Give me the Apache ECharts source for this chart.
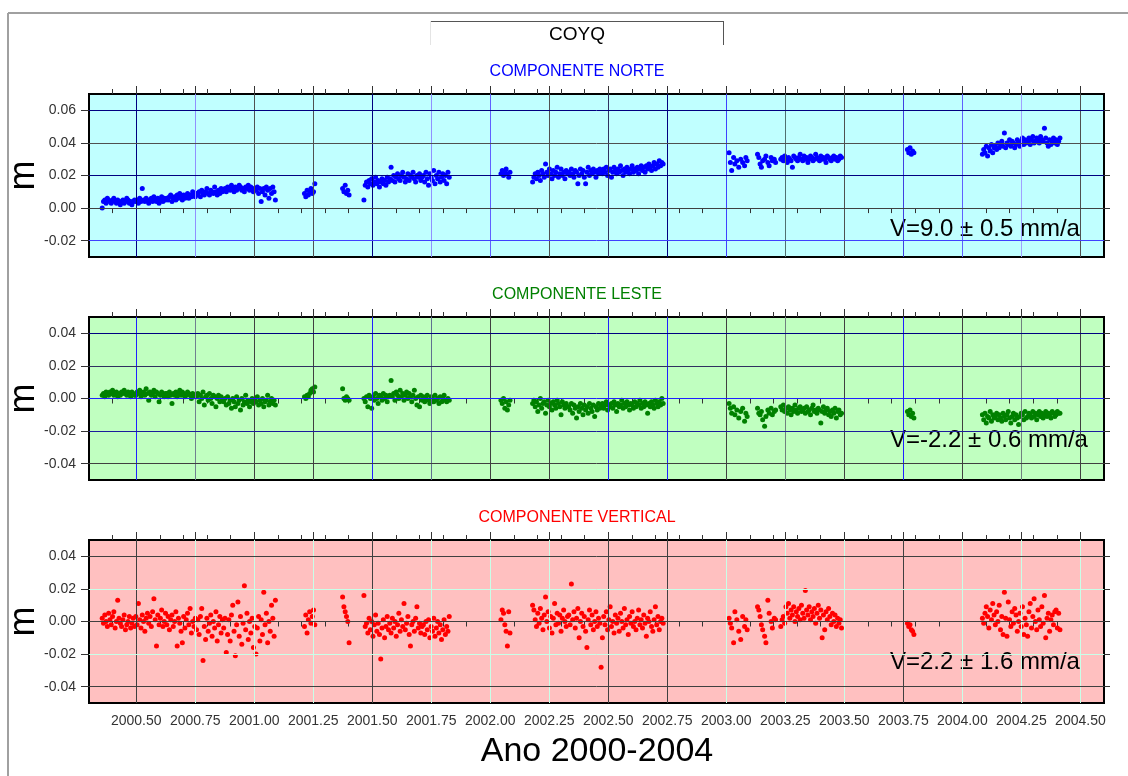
<!DOCTYPE html>
<html><head><meta charset="utf-8">
<script src="https://cdn.jsdelivr.net/npm/echarts@6/dist/echarts.min.js"></script>
<style>html,body{margin:0;padding:0;background:#fff}#c{width:1128px;height:776px}</style>
</head><body><div id="c"></div>
<script>
// Épocas: dias desde 2000.0
const dias = [
130,132,134,136,138,140,142,144,146,148,150,152,154,156,158,160,162,164,166,168,170,172,174,176,178,180,182,184,186,188,190,192,194,196,198,200,202,204,206,208,210,212,214,216,218,220,222,224,226,228,230,232,234,236,238,240,242,244,246,248,250,252,254,256,258,260,262,264,266,268,270,272,274,276,278,280,282,284,286,288,290,292,294,296,298,300,302,304,306,308,310,312,314,316,318,320,322,324,326,328,330,332,334,336,338,340,342,344,346,348,350,352,354,356,358,360,362,364,366,368,370,372,374,376,378,380,382,384,386,388,390,392,394,396,398,
443,445,447,449,451,453,455,457,459,
502,504,506,508,510,512,
535,537,539,541,543,545,547,549,551,553,555,557,559,561,563,565,567,569,571,573,575,577,579,581,583,585,587,589,591,593,595,597,599,601,603,605,607,609,611,613,615,617,619,621,623,625,627,629,631,633,635,637,639,641,643,645,647,649,651,653,655,657,659,661,663,665,667,
747,749,751,753,755,757,759,761,
796,798,800,802,804,806,808,810,812,814,816,818,820,822,824,826,828,830,832,834,836,838,840,842,844,846,848,850,852,854,856,858,860,862,864,866,868,870,872,874,876,878,880,882,884,886,888,890,892,894,896,898,900,902,904,906,908,910,912,914,916,918,920,922,924,926,928,930,932,934,936,938,940,942,944,946,948,950,952,954,956,958,960,962,964,966,968,970,972,974,976,978,980,982,984,986,988,990,992,994,996,998,
1100,1102,1104,1107,1109,1112,1115,1118,1121,1124,1126,1128,
1144,1146,1148,1150,1152,1155,1157,1160,1162,1165,1167,1170,1172,
1180,1182,1184,1186,1188,1190,1192,1194,1196,1198,1200,1202,1204,1206,1208,1210,1212,1214,1216,1218,1220,1222,1224,1226,1228,1230,1232,1234,1236,1238,1240,1242,1244,1246,1248,1250,1252,1254,1256,1258,1260,1262,1264,1266,1268,1270,1272,1274,
1376,1378,1380,1382,1384,1386,
1492,1494,1496,1498,1500,1502,1504,1506,1508,1510,1512,1514,1516,1518,1520,1522,1524,1526,1528,1530,1532,1534,1536,1538,1540,1542,1544,1546,1548,1550,1552,1554,1556,1558,1560,1562,1564,1566,1568,1570,1572,1574,1576,1578,1580,1582,1584,1586,1588,1590,1592,1594,1596,1598,1600,1602,1604,1606,1608,1610,1612
];
// Componente Norte (mm)
const norte = [
0,4,5,3,6,5,4,3,5,6,4,3,5,4,2,4,5,3,4,6,5,3,4,2,4,5,
4,5,3,6,4,12,5,4,6,5,3,5,6,4,7,5,4,6,3,5,7,4,6,5,
6,5,7,8,4,6,7,5,8,6,9,7,5,8,6,7,9,6,8,7,10,8,7,
9,8,10,7,11,9,8,10,12,9,8,11,10,9,13,10,8,11,9,12,10,
11,12,10,13,12,11,14,12,10,13,11,12,14,13,11,12,10,13,12,14,11,13,12,10,12,
11,13,9,12,4,10,12,8,13,11,6,12,9,13,10,5,
9,7,11,8,10,12,9,10,15,
12,10,14,9,11,8,
5,14,16,13,17,15,18,14,16,19,15,17,13,16,18,15,17,14,19,16,
18,25,17,20,16,19,21,18,17,20,22,19,16,18,21,17,20,19,22,18,16,20,19,21,17,19,
20,16,22,18,14,21,19,17,23,15,20,18,22,16,19,21,17,20,15,22,19,
21,23,20,22,24,21,19,22,
16,19,21,18,22,20,17,23,21,19,27,22,20,24,21,18,23,20,22,25,19,21,24,20,22,18,23,21,
22,20,24,21,19,23,22,15,20,24,21,23,19,15,22,25,20,23,21,24,22,19,23,21,24,
23,21,24,22,25,20,23,24,19,22,25,23,21,24,22,26,23,20,24,22,25,23,21,24,26,22,24,23,25,21,24,26,23,25,22,26,24,27,25,23,26,28,24,27,25,29,26,28,27,
34,28,23,31,27,29,25,30,28,26,31,29,
33,31,27,25,29,30,32,28,26,31,29,30,28,
30,31,29,32,30,28,31,30,29,25,32,31,30,29,31,33,30,29,32,30,31,28,30,32,31,29,30,33,31,30,29,32,30,31,30,28,32,31,30,29,31,32,30,31,29,30,32,31,
36,34,37,33,35,34,
33,36,34,38,32,37,35,39,34,37,38,36,40,37,39,41,38,46,37,40,39,42,38,41,40,37,39,42,40,38,41,43,39,42,40,41,43,39,42,44,40,41,43,42,40,44,42,41,49,43,40,38,42,39,41,43,40,42,39,41,43
];
// Componente Leste (mm)
const leste = [
2,3,1,4,3,2,4,3,5,2,3,4,1,3,2,4,3,5,3,2,4,3,1,4,3,2,
2,4,3,5,1,3,4,2,6,3,-1,4,2,3,5,1,4,3,-2,2,4,3,1,3,
3,1,4,2,-3,3,2,4,1,3,5,2,4,3,1,2,4,3,2,0,3,1,2,
1,3,-2,2,0,4,-4,1,2,-1,3,0,-3,2,1,-5,0,2,-2,1,-1,
-2,0,-4,1,-3,-1,-6,0,-2,-5,1,-3,-1,-7,0,-4,-2,2,-3,-1,-5,-2,0,-3,-1,
-2,1,-4,-1,-3,0,-5,-2,-1,2,-4,-2,0,-3,-1,-4,
1,0,2,1,3,5,6,4,7,
6,0,-1,1,0,-1,
0,-2,1,-5,2,0,-6,1,-1,3,0,-3,2,1,-1,3,0,2,-2,1,
2,11,1,3,-1,4,2,0,5,1,3,-1,2,4,0,3,1,-2,2,5,0,-4,1,-5,2,-1,
1,-2,0,2,-1,-3,1,0,-2,2,-1,0,-3,1,-2,0,2,-1,-2,0,-1,
-1,-3,0,-6,-2,-7,-4,-1,
-3,-1,-5,-2,-8,-4,0,-6,-3,-2,-9,-4,-1,-5,-3,-7,-2,-4,-6,-1,-3,-5,-10,-2,-4,-6,-3,-5,
-5,-7,-3,-9,-4,-6,-12,-5,-8,-3,-6,-10,-4,-7,-5,-9,-3,-6,-8,-4,-11,-5,-7,-3,-6,
-5,-3,-6,-4,-2,-7,-4,-5,-3,-6,-2,-4,-8,-3,-5,-4,-1,-6,-3,-5,-2,-4,-7,-3,-4,-6,-2,-5,-3,-4,-1,-6,-3,-5,-2,-4,-9,-3,-5,-2,-4,-6,-1,-3,-5,-2,-4,0,-3,
-3,-6,-9,-5,-10,-7,-12,-8,-6,-14,-9,-11,
-6,-9,-10,-8,-13,-17,-11,-7,-9,-6,-10,-8,-7,
-5,-7,-4,-8,-6,-9,-5,-7,-10,-6,-8,-4,-7,-9,-6,-5,-8,-7,-6,-9,-5,-8,-7,-10,-6,-4,-8,-7,-9,-6,-7,-15,-8,-5,-9,-7,-6,-10,-8,-11,-7,-9,-6,-12,-8,-7,-10,-9,
-8,-10,-7,-11,-9,-12,
-10,-13,-9,-15,-11,-12,-8,-14,-10,-12,-11,-9,-13,-10,-12,-14,-9,-11,-13,-10,-8,-12,-15,-11,-9,-13,-10,-12,-16,-11,-9,-10,-13,-8,-12,-11,-9,-10,-12,-8,-11,-9,-13,-10,-8,-11,-9,-12,-10,-8,-11,-9,-10,-12,-8,-9,-11,-10,-8,-9,-9
];
// Componente Vertical (mm)
const vertical = [
2,-1,4,0,-3,5,1,-2,3,6,-4,0,13,2,-1,-3,1,4,-5,-2,0,3,-4,-1,2,-3,
3,-2,11,1,-4,4,0,-6,2,5,-1,3,-3,6,14,1,-15,4,-2,2,7,-3,0,5,
-2,3,-5,1,4,-3,0,6,-15,2,-1,-6,-13,3,-4,1,5,-2,8,-7,0,-3,2,
-5,1,-8,3,8,-24,-3,-11,2,-6,-1,4,-9,0,-4,6,-12,-2,3,-7,1,
-4,2,-19,-8,1,-12,4,10,-6,-21,-2,12,-9,3,-14,-1,22,-5,5,-11,0,-7,2,-16,-3,
-20,-4,3,-12,1,-8,18,-2,5,-13,0,-6,10,2,-9,13,
-3,4,-7,1,6,-1,3,7,-2,
15,9,6,3,0,-13,
16,-3,-1,-7,2,-5,0,-9,-2,4,-6,-1,-8,-23,-4,1,-10,-3,3,-5,
-1,-7,2,-4,0,-9,-2,5,-6,1,-3,11,-5,-1,3,-8,-15,-2,0,-6,2,9,-4,-1,-7,-3,
-2,-8,0,-5,1,-10,-3,-6,2,-9,-4,0,-7,-2,-11,-5,1,-8,-3,-6,3,
1,7,5,-2,-6,-15,6,-7,
10,7,1,-3,5,-1,8,2,-5,4,15,0,6,-4,3,-7,2,11,-2,5,-1,4,-6,2,7,0,-3,3,
4,-2,23,1,6,-4,2,8,-10,0,5,-3,3,-6,-16,1,7,-2,4,-5,0,6,-3,2,-1,
-28,-10,3,-2,6,-5,1,9,-3,0,-7,4,-1,2,-6,5,0,-4,8,-2,1,-8,3,-1,6,-3,0,-5,2,7,-2,1,-4,4,-1,-9,2,0,6,-3,-6,1,9,-2,3,-5,0,2,-1,
2,-1,-4,-13,6,1,-6,-11,3,-3,1,-5,
9,7,3,-2,-5,-9,-13,13,5,0,-4,2,1,
-3,1,3,-1,9,5,11,2,7,4,9,0,6,3,8,1,10,5,2,19,7,4,9,1,6,3,8,-1,5,10,2,7,-10,4,-5,6,1,8,3,-2,5,0,4,-3,2,-1,1,-4,
-1,-3,-2,-5,-6,-8,
2,-1,5,9,3,-4,7,1,11,4,-2,6,0,10,-5,3,-8,18,2,-9,12,1,-3,6,-1,8,4,-6,0,5,-3,9,-8,2,-2,-9,6,11,-4,3,14,0,-5,7,1,-3,9,-1,16,-10,2,5,-6,1,4,-2,6,7,-4,5,-5
];
const ticksMaiores = [2000.5,2000.75,2001,2001.25,2001.5,2001.75,2002,2002.25,2002.5,2002.75,2003,2003.25,2003.5,2003.75,2004,2004.25,2004.5];
const ticksMenores = [2000.4,2000.5,2000.6,2000.7,2000.8,2000.9,2001,2001.1,2001.2,2001.3,2001.4,2001.5,2001.6,2001.7,2001.8,2001.9,2002,2002.1,2002.2,2002.3,2002.4,2002.5,2002.6,2002.7,2002.8,2002.9,2003,2003.1,2003.2,2003.3,2003.4,2003.5,2003.6,2003.7,2003.8,2003.9,2004,2004.1,2004.2,2004.3,2004.4,2004.5];
const yTicksNorte = [-0.02,0,0.02,0.04,0.06];
const yTicksLV = [-0.04,-0.02,0,0.02,0.04];
const titulos = ['COMPONENTE NORTE','COMPONENTE LESTE','COMPONENTE VERTICAL'];
const velocidades = ['V=9.0 \u00b1 0.5 mm/a','V=-2.2 \u00b1 0.6 mm/a','V=2.2 \u00b1 1.6 mm/a'];
const estacao = 'COYQ';
const tituloX = 'Ano 2000-2004';

// estilos
const cores = ['#0000ff','#008000','#ff0000'];
const fundos = ['#c0ffff','#c0ffc0','#ffc0c0'];
const componentes = [norte, leste, vertical];
const topos = [94, 317, 540];
const ALT = 163, ESQ = 89, LARG = 1015;
const yMin = [-0.03,-0.05,-0.05], yMax = [0.07,0.05,0.05];
const yTicks = [yTicksNorte, yTicksLV, yTicksLV];
const L = '#c8ffe8', D = '#404040';
const gradeVert = [
 ['#000080','#9090ff','#505050','#505050','#000080','#9090ff','#6060ff','#505050','#303060','#000080','#4040ff','#507070','#505050','#4040e0','#6060ff','#a0a0ff','#505050'],
 ['#2020ff','#708090','#404040','#404040','#2020ff','#607090','#404040','#404040','#2020ff','#2020ff','#404040','#708080','#404040','#2020ff','#404040','#708080','#404040'],
 [D,L,L,L,D,L,L,L,D,D,L,L,L,D,L,L,L]
];
const gradeHoriz = [
 ['#4040ff','#404040','#000080','#505050','#000080'],
 ['#404040','#1c1c9c','#2020ff','#303060','#000080'],
 [D,L,D,L,D]
];
const FONTE = 'Liberation Sans, Arial, sans-serif';

const grid = [], xAxis = [], yAxis = [], series = [], graphic = [];
for (let g = 0; g < 3; g++) {
  grid.push({left: ESQ, top: topos[g], width: LARG, height: ALT, show: true,
    backgroundColor: fundos[g], borderColor: '#000', borderWidth: 2});
  const eixoX = (pos, vals, len, rot) => ({type: 'value', gridIndex: g, position: pos, min: 2000.3, max: 2004.6,
    axisLine: {show: false}, splitLine: {show: false},
    axisTick: {show: true, customValues: vals, length: len, lineStyle: {color: '#333', width: 1}},
    axisLabel: rot ? {show: true, customValues: vals, formatter: v => v.toFixed(2), color: '#333', fontSize: 14, fontFamily: FONTE, margin: 11} : {show: false}});
  xAxis.push(eixoX('bottom', ticksMaiores, 8, g === 2));
  xAxis.push(eixoX('bottom', ticksMenores, 5, false));
  xAxis.push(eixoX('top', ticksMaiores, 8, false));
  xAxis.push(eixoX('top', ticksMenores, 5, false));
  yAxis.push({type: 'value', gridIndex: g, position: 'left', min: yMin[g], max: yMax[g],
    axisLine: {show: false}, splitLine: {show: false},
    axisTick: {show: true, customValues: yTicks[g], length: 8, lineStyle: {color: '#333'}},
    axisLabel: {show: true, customValues: yTicks[g], formatter: v => v.toFixed(2), color: '#333', fontSize: 14, fontFamily: FONTE, margin: 13}});
  yAxis.push({type: 'value', gridIndex: g, position: 'right', min: yMin[g], max: yMax[g],
    axisLine: {show: false}, splitLine: {show: false},
    axisTick: {show: true, customValues: yTicks[g], length: 6, lineStyle: {color: '#333'}},
    axisLabel: {show: false}});
  series.push({type: 'scatter', xAxisIndex: g * 4, yAxisIndex: g * 2, data: [], silent: true, z: 1,
    markLine: {silent: true, symbol: ['none', 'none'], animation: false, label: {show: false}, emphasis: {disabled: true},
      data: ticksMaiores.map((v, i) => ({xAxis: v, lineStyle: {color: gradeVert[g][i], width: 1, type: 'solid'}}))
        .concat(yTicks[g].map((v, i) => ({yAxis: v, lineStyle: {color: gradeHoriz[g][i], width: 1, type: 'solid'}})))}});
  series.push({type: 'scatter', xAxisIndex: g * 4, yAxisIndex: g * 2, symbol: 'circle', symbolSize: 5, z: 3, silent: true,
    itemStyle: {color: cores[g], opacity: 1},
    data: dias.map((d, i) => [2000 + d / 365.25, componentes[g][i] / 1000])});
  graphic.push({type: 'text', x: 577, y: topos[g] - 22, style: {text: titulos[g], fill: cores[g], font: '16px ' + FONTE, textAlign: 'center', textVerticalAlign: 'middle'}});
  graphic.push({type: 'text', x: 890, y: [229, 440, 662][g], style: {text: velocidades[g], fill: '#000', font: '24px ' + FONTE, textAlign: 'left', textVerticalAlign: 'middle'}});
  graphic.push({type: 'text', x: 24, y: topos[g] + ALT / 2, rotation: Math.PI / 2, style: {text: 'm', fill: '#000', font: '36px ' + FONTE, textAlign: 'center', textVerticalAlign: 'middle'}});
}
graphic.push({type: 'line', shape: {x1: 8, y1: 13, x2: 1128, y2: 13}, style: {stroke: '#a0a0a0', lineWidth: 2}});
graphic.push({type: 'line', shape: {x1: 8, y1: 13, x2: 8, y2: 776}, style: {stroke: '#a0a0a0', lineWidth: 2}});
graphic.push({type: 'line', shape: {x1: 430, y1: 21.5, x2: 723, y2: 21.5}, style: {stroke: '#555', lineWidth: 1}});
graphic.push({type: 'line', shape: {x1: 723.5, y1: 21, x2: 723.5, y2: 45}, style: {stroke: '#555', lineWidth: 1}});
graphic.push({type: 'line', shape: {x1: 430.5, y1: 21, x2: 430.5, y2: 45}, style: {stroke: '#e4e4e4', lineWidth: 1}});
graphic.push({type: 'text', x: 577, y: 35, style: {text: estacao, fill: '#000', font: '19px ' + FONTE, textAlign: 'center', textVerticalAlign: 'middle'}});
graphic.push({type: 'text', x: 597, y: 752, style: {text: tituloX, fill: '#000', font: '34px ' + FONTE, textAlign: 'center', textVerticalAlign: 'middle'}});

const chart = echarts.init(document.getElementById('c'), null, {renderer: 'canvas'});
chart.setOption({animation: false, backgroundColor: '#fff', grid, xAxis, yAxis, series, graphic});
if (norte.length !== dias.length || leste.length !== dias.length || vertical.length !== dias.length) {
  throw new Error('lengths ' + dias.length + ' ' + norte.length + ' ' + leste.length + ' ' + vertical.length);
}
</script></body></html>
